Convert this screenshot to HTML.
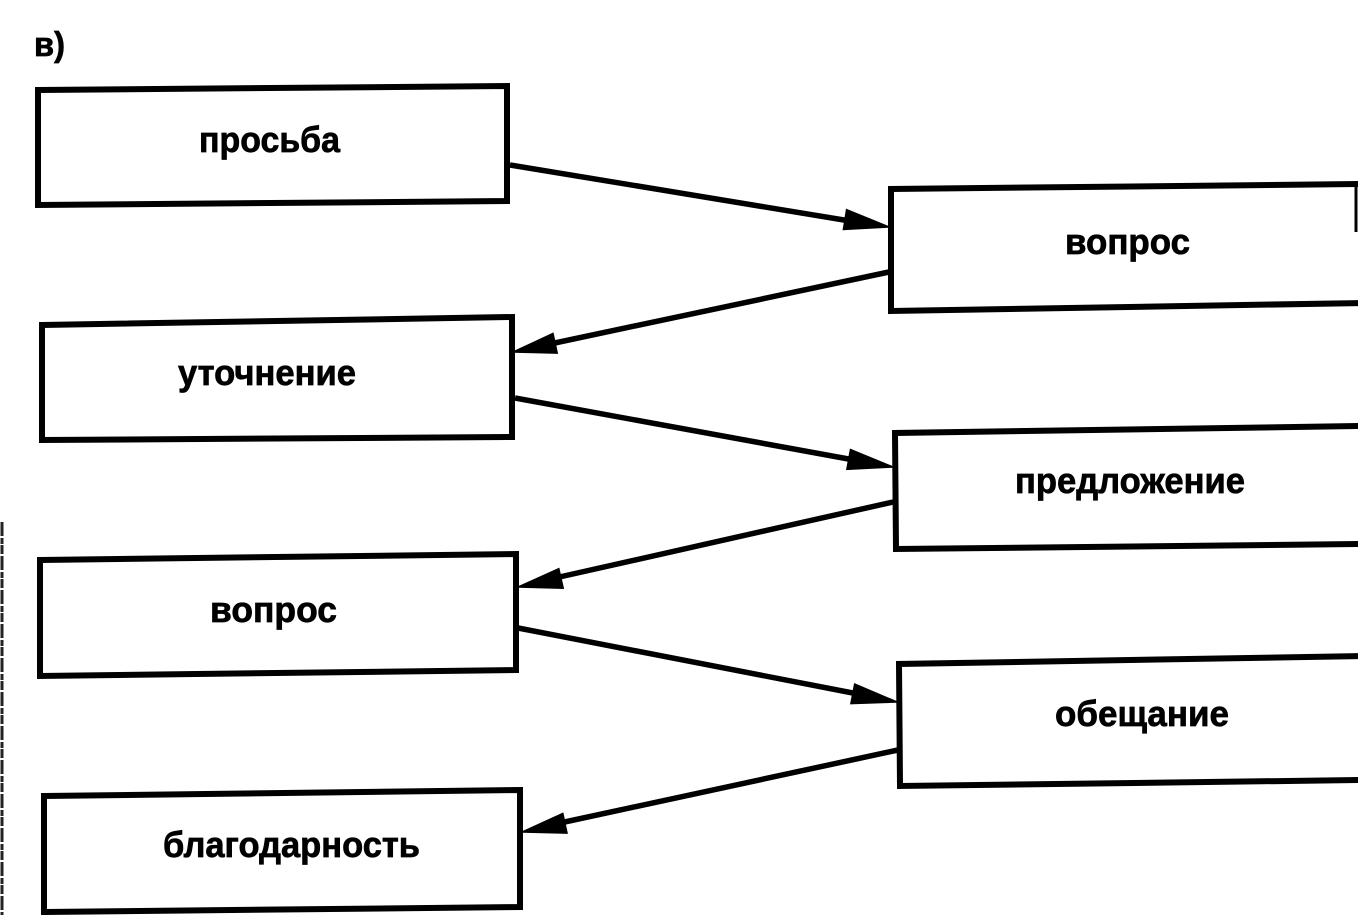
<!DOCTYPE html>
<html>
<head>
<meta charset="utf-8">
<style>
  html, body { margin: 0; padding: 0; background: #ffffff; }
  body { width: 1358px; height: 915px; overflow: hidden; }
  svg { display: block; }
  text { font-family: "Liberation Sans", "DejaVu Sans", sans-serif; font-weight: bold; fill: #000; stroke: #000; stroke-width: 0.7; }
</style>
</head>
<body>
<svg width="1358" height="915" viewBox="0 0 1358 915" xmlns="http://www.w3.org/2000/svg">
  <rect x="0" y="0" width="1358" height="915" fill="#ffffff"/>

  <!-- scan edge artifact -->
  <line x1="2" y1="522" x2="2" y2="915" stroke="#222" stroke-width="3" stroke-dasharray="14 2 6 1 9 2"/>

  <!-- label -->
  <text x="34" y="56" font-size="34" textLength="31" lengthAdjust="spacingAndGlyphs">в)</text>

  <g fill="none" stroke="#000" stroke-width="6" stroke-linejoin="miter">
    <!-- left column boxes -->
    <polygon points="38,90 507,86 507,201 38,205"/>
    <polygon points="42,325 512,317 512,437 42,440"/>
    <polygon points="40,560 516,554 516,670 40,676"/>
    <polygon points="44,796 520,790 520,907 44,912"/>
    <!-- right column boxes (extend beyond the right edge) -->
    <polyline points="1362,184 891,189 891,311 1362,303"/>
    <polyline points="1362,426 895,433 896,549 1362,544"/>
    <polyline points="1362,656 899,664 900,786 1362,780"/>
  </g>
  <!-- partial right edge of top-right box -->
  <line x1="1356" y1="184" x2="1356" y2="232" stroke="#000" stroke-width="3"/>

  <!-- connectors -->
  <g stroke="#000" stroke-width="5.5" fill="none" stroke-linecap="butt">
    <line x1="510" y1="165" x2="850" y2="221"/>
    <line x1="889" y1="272" x2="550" y2="344"/>
    <line x1="515" y1="398" x2="854" y2="460"/>
    <line x1="893" y1="502" x2="555" y2="578"/>
    <line x1="518" y1="628" x2="858" y2="694"/>
    <line x1="898" y1="750" x2="560" y2="823"/>
  </g>

  <!-- arrowheads -->
  <g fill="#000" stroke="#000" stroke-width="1.5">
    <polygon points="889,227 846.6,209.7 843.4,229.5"/>
    <polygon points="513,352 553.0,333.5 557.2,353.1"/>
    <polygon points="893,467 850.5,449.6 846.9,469.3"/>
    <polygon points="518,587 558.8,568.7 563.2,588.2"/>
    <polygon points="897,702 854.7,684.0 850.9,703.6"/>
    <polygon points="522,832 562.8,813.5 567.0,833.1"/>
  </g>

  <!-- node labels -->
  <text x="199" y="152" font-size="36" textLength="141" lengthAdjust="spacingAndGlyphs">просьба</text>
  <text x="1065" y="254" font-size="36" textLength="125" lengthAdjust="spacingAndGlyphs">вопрос</text>
  <text x="178" y="385" font-size="36" textLength="178" lengthAdjust="spacingAndGlyphs">уточнение</text>
  <text x="1015" y="493" font-size="36" textLength="230" lengthAdjust="spacingAndGlyphs">предложение</text>
  <text x="210" y="622" font-size="36" textLength="127" lengthAdjust="spacingAndGlyphs">вопрос</text>
  <text x="1055" y="726" font-size="36" textLength="174" lengthAdjust="spacingAndGlyphs">обещание</text>
  <text x="163" y="857" font-size="36" textLength="257" lengthAdjust="spacingAndGlyphs">благодарность</text>
</svg>
</body>
</html>
